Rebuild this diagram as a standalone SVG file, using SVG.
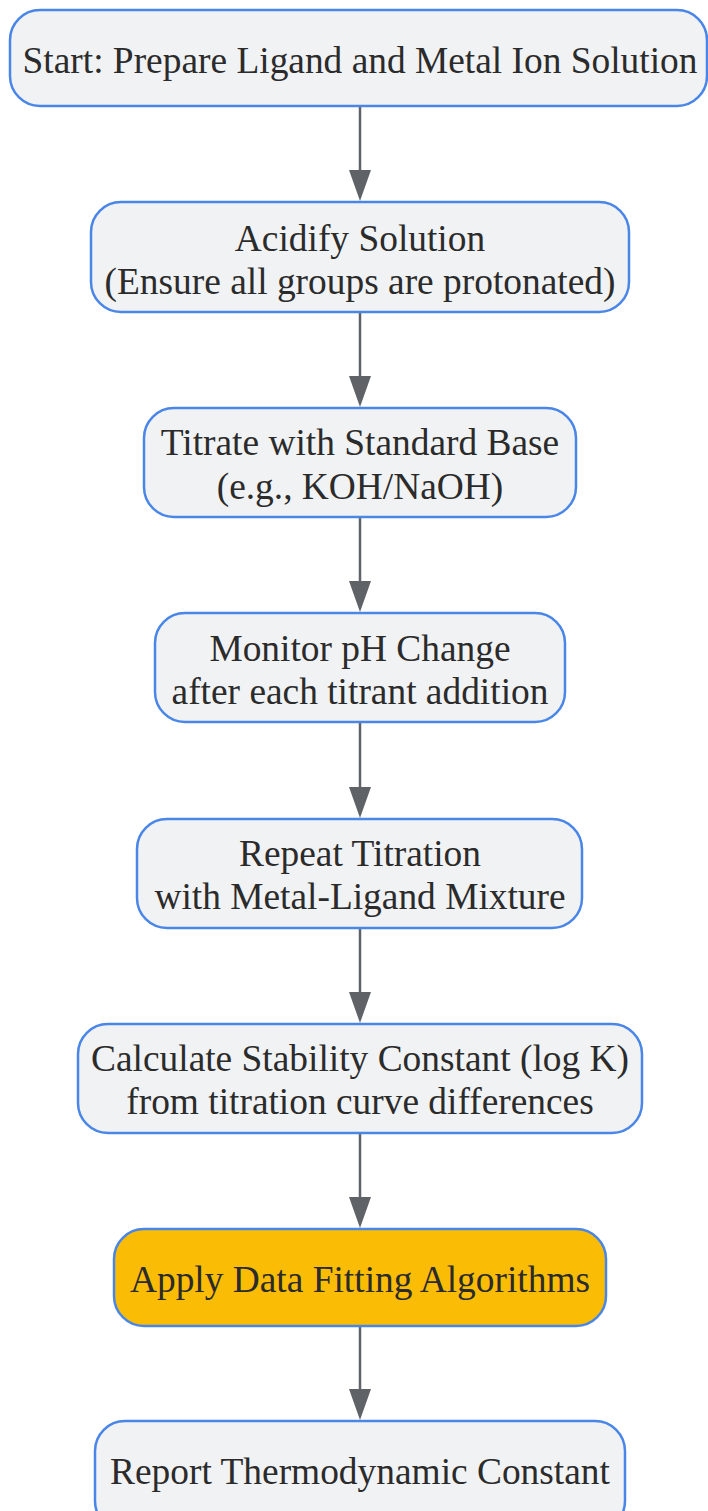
<svg xmlns="http://www.w3.org/2000/svg" width="708" height="1511" viewBox="0 0 708 1511">
<style>
.box{fill:#f1f2f4;stroke:#4a86e8;stroke-width:2.5}
.hl{fill:#fabc05;stroke:#4a86e8;stroke-width:2.5}
.t{font-family:"Liberation Serif","Times New Roman",serif;font-size:37.4px;fill:#2b2b2b;text-anchor:middle;dominant-baseline:central}
.e{stroke:#5f6368;stroke-width:2.5;fill:none}
.ah{fill:#5f6368}
</style>
<rect width="708" height="1511" fill="#ffffff"/>
<g id="connectors">
<line class="e" x1="360" y1="106" x2="360" y2="170"/><path class="ah" d="M349,170 L371,170 L360,201 Z"/>
<line class="e" x1="360" y1="312" x2="360" y2="376"/><path class="ah" d="M349,376 L371,376 L360,407 Z"/>
<line class="e" x1="360" y1="517" x2="360" y2="581"/><path class="ah" d="M349,581 L371,581 L360,612 Z"/>
<line class="e" x1="360" y1="722" x2="360" y2="787"/><path class="ah" d="M349,787 L371,787 L360,818 Z"/>
<line class="e" x1="360" y1="928" x2="360" y2="992"/><path class="ah" d="M349,992 L371,992 L360,1023 Z"/>
<line class="e" x1="360" y1="1133" x2="360" y2="1197"/><path class="ah" d="M349,1197 L371,1197 L360,1228 Z"/>
<line class="e" x1="360" y1="1326" x2="360" y2="1389"/><path class="ah" d="M349,1389 L371,1389 L360,1420 Z"/>
</g>
<g id="n1">
<rect class="box" x="10" y="10" width="697" height="96" rx="30" ry="30"/>
<text class="t" x="360" y="60">Start: Prepare Ligand and Metal Ion Solution</text>
</g>
<g id="n2">
<rect class="box" x="91" y="202" width="538" height="110" rx="30" ry="30"/>
<text class="t" x="360" y="238">Acidify Solution</text>
<text class="t" x="360" y="281">(Ensure all groups are protonated)</text>
</g>
<g id="n3">
<rect class="box" x="144" y="408" width="432" height="109" rx="30" ry="30"/>
<text class="t" x="360" y="442">Titrate with Standard Base</text>
<text class="t" x="360" y="486">(e.g., KOH/NaOH)</text>
</g>
<g id="n4">
<rect class="box" x="155" y="613" width="410" height="109" rx="30" ry="30"/>
<text class="t" x="360" y="648">Monitor pH Change</text>
<text class="t" x="360" y="691">after each titrant addition</text>
</g>
<g id="n5">
<rect class="box" x="137" y="819" width="445" height="109" rx="30" ry="30"/>
<text class="t" x="360" y="853">Repeat Titration</text>
<text class="t" x="360" y="896">with Metal-Ligand Mixture</text>
</g>
<g id="n6">
<rect class="box" x="78" y="1024" width="564" height="109" rx="30" ry="30"/>
<text class="t" x="360" y="1058">Calculate Stability Constant (log K)</text>
<text class="t" x="360" y="1101">from titration curve differences</text>
</g>
<g id="n7">
<rect class="hl" x="114" y="1229" width="492" height="97" rx="30" ry="30"/>
<text class="t" x="360" y="1279">Apply Data Fitting Algorithms</text>
</g>
<g id="n8">
<rect class="box" x="95" y="1421" width="530" height="110" rx="30" ry="30"/>
<text class="t" x="360" y="1471">Report Thermodynamic Constant</text>
</g>
</svg>
